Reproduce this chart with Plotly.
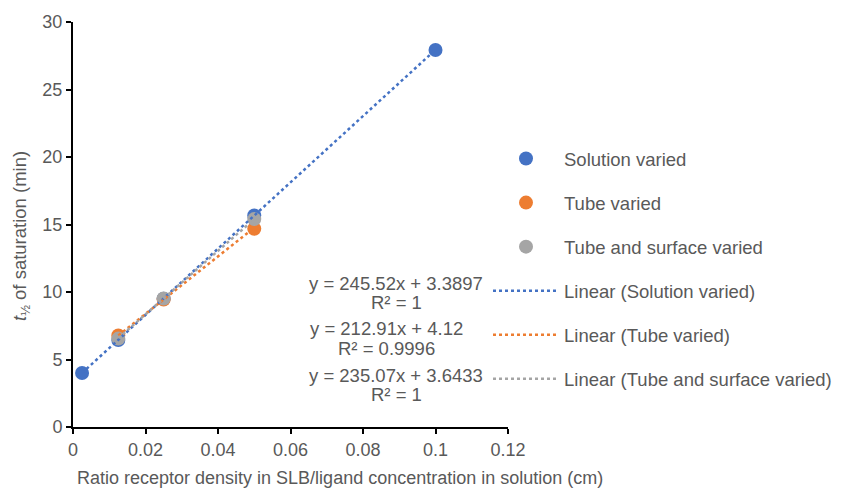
import plotly.graph_objects as go

# Ratio receptor density in SLB / ligand concentration in solution (cm)
sol_x = [0.0025, 0.0125, 0.025, 0.05, 0.1]
sol_y = [4.0, 6.45, 9.5, 15.67, 27.93]

tube_x = [0.0125, 0.025, 0.05]
tube_y = [6.78, 9.44, 14.68]

surf_x = [0.0125, 0.025, 0.05]
surf_y = [6.55, 9.52, 15.40]

# Linear trendline coefficients (slope, intercept, R²)
fits = {
    "Solution varied": (245.52, 3.3897, "1"),
    "Tube varied": (212.91, 4.12, "0.9996"),
    "Tube and surface varied": (235.07, 3.6433, "1"),
}

colors = {
    "Solution varied": "#4472C4",
    "Tube varied": "#ED7D31",
    "Tube and surface varied": "#A5A5A5",
}

series = [
    ("Solution varied", sol_x, sol_y),
    ("Tube varied", tube_x, tube_y),
    ("Tube and surface varied", surf_x, surf_y),
]

FONT = "Liberation Sans, Arial, sans-serif"
TXT = "#595959"
FS = 18.5
W, H = 843, 489

fig = go.Figure()

# Markers first so the legend lists them ahead of the trendlines
for i, (name, xs, ys) in enumerate(series):
    fig.add_trace(go.Scatter(
        x=xs, y=ys, mode="markers", name=name,
        marker=dict(color=colors[name], size=14, line=dict(width=0)),
        legendgroup=f"m{i}", legendrank=i + 1,
    ))

for i, (name, xs, ys) in enumerate(series):
    m, b, _ = fits[name]
    lx = [min(xs), max(xs)]
    ly = [m * v + b for v in lx]
    fig.add_trace(go.Scatter(
        x=lx, y=ly, mode="lines", name=f"Linear ({name})",
        line=dict(color=colors[name], width=2.5, dash="dot"),
        legendgroup=f"l{i}", legendrank=10 + i,
    ))

# Plot-area geometry in pixels, used to place the text boxes
px_l, px_b, pw, ph = 73, 62, 435, 405
def to_paper(px, py):
    return (px - px_l) / pw, (H - px_b - py) / ph

def label(text, px, py, **kw):
    x, y = to_paper(px, py)
    fig.add_annotation(x=x, y=y, xref="paper", yref="paper", text=text,
                       showarrow=False, xanchor="center", yanchor="middle",
                       font=dict(family=FONT, size=kw.pop("size", FS), color=TXT),
                       **kw)

# Trendline equation labels beside the legend
eq_rows = [(283, 303), (328, 348), (375, 394)]
eq_centers = [396, 386, 396]
for (name, (m, b, r2)), (ya, yb), cx in zip(fits.items(), eq_rows, eq_centers):
    label(f"y = {m:g}x + {b:g}", cx, ya)
    label(f"R² = {r2}", cx, yb)

# Axis titles
label("<i>t</i><sub>½</sub> of saturation (min)", 21, 236, textangle=-90)
label("Ratio receptor density in SLB/ligand concentration in solution (cm)",
      340, 478, size=18)

axis_common = dict(
    showline=True, linecolor="black", linewidth=2,
    ticks="outside", ticklen=5, tickwidth=2, tickcolor="black",
    showgrid=False, zeroline=False, automargin=False,
    tickfont=dict(family=FONT, size=18, color=TXT),
)

lx0, _ = to_paper(488, 0)
_, ly0 = to_paper(0, 140)

fig.update_layout(
    width=W, height=H,
    margin=dict(l=px_l, r=W - px_l - pw, t=H - px_b - ph, b=px_b, autoexpand=False),
    paper_bgcolor="white", plot_bgcolor="white",
    showlegend=True,
    legend=dict(
        x=lx0, y=ly0, xanchor="left", yanchor="top",
        font=dict(family=FONT, size=FS, color=TXT),
        itemwidth=66, tracegroupgap=17, maxheight=420,
        bgcolor="rgba(0,0,0,0)",
    ),
    xaxis=dict(
        range=[0, 0.12], tickvals=[0, 0.02, 0.04, 0.06, 0.08, 0.1, 0.12],
        ticktext=["0", "0.02", "0.04", "0.06", "0.08", "0.1", "0.12"],
        **axis_common,
    ),
    yaxis=dict(
        range=[0, 30], tickvals=[0, 5, 10, 15, 20, 25, 30],
        **axis_common,
    ),
)

fig.write_html("out.html")
